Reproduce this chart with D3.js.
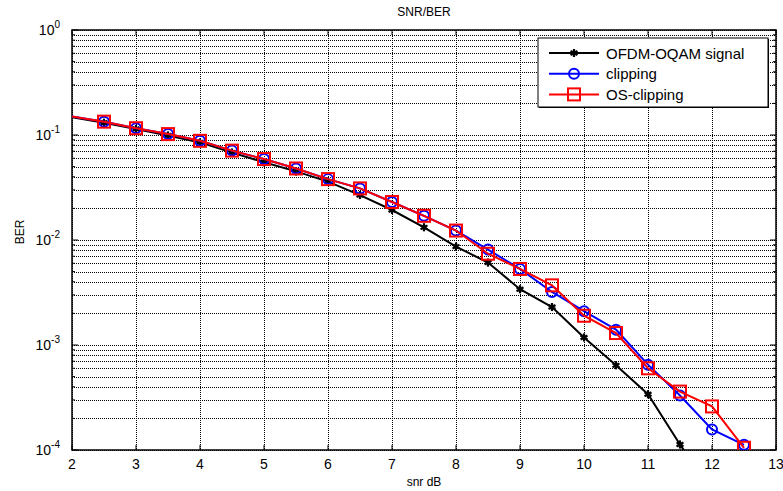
<!DOCTYPE html>
<html>
<head>
<meta charset="utf-8">
<script src="https://cdn.jsdelivr.net/npm/d3@7"></script>
<style>
  body { margin: 0; background: #fff; }
  text { font-family: "Liberation Sans", Arial, sans-serif; fill: #000; }
</style>
</head>
<body>
<svg id="chart" width="783" height="491"></svg>
<script>
const snr = [2, 2.5, 3, 3.5, 4, 4.5, 5, 5.5, 6, 6.5, 7, 7.5, 8, 8.5, 9, 9.5, 10, 10.5, 11, 11.5, 12, 12.5];

const berSignal = [0.148, 0.131, 0.114, 0.099, 0.085, 0.068, 0.055, 0.045, 0.036, 0.0268, 0.0193, 0.0132,
  0.00865, 0.0061, 0.0034, 0.0023, 0.00118, 0.00064, 0.00034, 0.000113, 0.00004];
const berClipping = [0.15, 0.134, 0.116, 0.102, 0.088, 0.071, 0.059, 0.048, 0.038, 0.031, 0.023, 0.017,
  0.0123, 0.0081, 0.0053, 0.0032, 0.0021, 0.0014, 0.00065, 0.00033, 0.000157, 0.000112];
const berOsClipping = [0.15, 0.134, 0.116, 0.102, 0.088, 0.071, 0.059, 0.048, 0.038, 0.031, 0.023, 0.017,
  0.0123, 0.0074, 0.0053, 0.0037, 0.0019, 0.0013, 0.0006, 0.00036, 0.00026, 0.000105];

const seriesNames = ['OFDM-OQAM signal', 'clipping', 'OS-clipping'];
const xTicks = [2, 3, 4, 5, 6, 7, 8, 9, 10, 11, 12, 13];
const yTicks = [1e-4, 1e-3, 1e-2, 1e-1, 1];

const margin = { top: 30, right: 7, bottom: 41, left: 72 };
const W = 783, H = 491;
const w = W - margin.left - margin.right;
const h = H - margin.top - margin.bottom;

const svg = d3.select('#chart');
const g = svg.append('g').attr('transform', `translate(${margin.left},${margin.top})`);

const x = d3.scaleLinear().domain([2, 13]).range([0, w]);
const y = d3.scaleLog().domain([1e-4, 1]).range([h, 0]);

svg.append('defs').append('clipPath').attr('id', 'clip')
  .append('rect').attr('width', w).attr('height', h);

// grid (minor decades included, MATLAB style)
const minor = [];
for (let e = -4; e < 0; e++) for (let k = 1; k <= 9; k++) minor.push(k * Math.pow(10, e));
minor.push(1);

g.append('g').selectAll('line').data(minor).join('line')
  .attr('x1', 0).attr('x2', w)
  .attr('y1', d => Math.round(y(d)) + 0.5).attr('y2', d => Math.round(y(d)) + 0.5)
  .attr('stroke', '#000').attr('stroke-width', 1).attr('stroke-dasharray', '1,1');

g.append('g').selectAll('line').data(xTicks).join('line')
  .attr('x1', d => Math.round(x(d)) + 0.5).attr('x2', d => Math.round(x(d)) + 0.5)
  .attr('y1', 0).attr('y2', h)
  .attr('stroke', '#000').attr('stroke-width', 1).attr('stroke-dasharray', '1,1');

// ticks inward on all sides
const tk = g.append('g').attr('stroke', '#000');
xTicks.forEach(d => {
  tk.append('line').attr('x1', x(d)).attr('x2', x(d)).attr('y1', h).attr('y2', h - 5);
  tk.append('line').attr('x1', x(d)).attr('x2', x(d)).attr('y1', 0).attr('y2', 5);
});
minor.forEach(d => {
  const len = yTicks.includes(d) ? 6 : 3;
  tk.append('line').attr('x1', 0).attr('x2', len).attr('y1', y(d)).attr('y2', y(d));
  tk.append('line').attr('x1', w).attr('x2', w - len).attr('y1', y(d)).attr('y2', y(d));
});

// frame
g.append('rect').attr('width', w).attr('height', h)
  .attr('fill', 'none').attr('stroke', '#000').attr('stroke-width', 1.5);

// tick labels
g.append('g').selectAll('text').data(xTicks).join('text')
  .attr('x', d => x(d)).attr('y', h + 19)
  .attr('text-anchor', 'middle').attr('font-size', 14)
  .text(d => d);

const yl = g.append('g').selectAll('text').data(yTicks).join('text')
  .attr('x', -12).attr('y', d => y(d) + 5)
  .attr('text-anchor', 'end').attr('font-size', 14);
yl.append('tspan').text('10');
yl.append('tspan').attr('dy', -7).attr('font-size', 10).text(d => Math.round(Math.log10(d)));

// titles
svg.append('text').attr('x', margin.left + w / 2).attr('y', 16)
  .attr('text-anchor', 'middle').attr('font-size', 12).text('SNR/BER');
svg.append('text').attr('x', margin.left + w / 2).attr('y', 486)
  .attr('text-anchor', 'middle').attr('font-size', 12).text('snr dB');
svg.append('text').attr('transform', `translate(24,${margin.top + h / 2 - 8}) rotate(-90)`)
  .attr('text-anchor', 'middle').attr('font-size', 12).text('BER');

// series
const series = [
  { name: seriesNames[0], values: berSignal, color: '#000', marker: 'star' },
  { name: seriesNames[1], values: berClipping, color: '#0000ff', marker: 'circle' },
  { name: seriesNames[2], values: berOsClipping, color: '#ff0000', marker: 'square' }
];

const line = d3.line().x(d => x(d[0])).y(d => y(d[1]));
const plot = g.append('g').attr('clip-path', 'url(#clip)');

function drawMarker(sel, s) {
  if (s.marker === 'circle') {
    sel.append('circle').attr('r', 5)
      .attr('fill', 'none').attr('stroke', s.color).attr('stroke-width', 2);
  } else if (s.marker === 'square') {
    sel.append('rect').attr('x', -6).attr('y', -6).attr('width', 12).attr('height', 12)
      .attr('fill', 'none').attr('stroke', s.color).attr('stroke-width', 2);
  } else {
    sel.append('path').attr('d', d3.symbol(d3.symbolAsterisk, 45)())
      .attr('fill', 'none').attr('stroke', s.color).attr('stroke-width', 2.2);
    sel.append('path').attr('d', d3.symbol(d3.symbolDiamond, 22)())
      .attr('fill', s.color);
  }
}

series.forEach(s => {
  const pts = s.values.map((v, i) => [snr[i], v]);
  plot.append('path').datum(pts)
    .attr('d', line).attr('fill', 'none')
    .attr('stroke', s.color).attr('stroke-width', 2);
  plot.append('g').selectAll('g').data(pts.filter(p => p[0] > 2)).join('g')
    .attr('transform', d => `translate(${x(d[0])},${y(d[1])})`)
    .each(function () { drawMarker(d3.select(this), s); });
});

// legend
const lg = g.append('g').attr('transform', `translate(${538 - margin.left},${38 - margin.top})`);
lg.append('rect').attr('x', 1).attr('y', 1).attr('width', 230).attr('height', 69).attr('fill', '#000');
lg.append('rect').attr('width', 230).attr('height', 69)
  .attr('fill', '#fff').attr('stroke', '#000').attr('stroke-width', 1);
series.forEach((s, i) => {
  const row = lg.append('g').attr('transform', `translate(0,${15 + i * 20.7})`);
  row.append('line').attr('x1', 11).attr('x2', 61)
    .attr('stroke', s.color).attr('stroke-width', 2);
  const m = row.append('g').attr('transform', 'translate(36,0)');
  drawMarker(m, s);
  row.append('text').attr('x', 68).attr('y', 5.5).attr('font-size', 15).text(s.name);
});
</script>
</body>
</html>
